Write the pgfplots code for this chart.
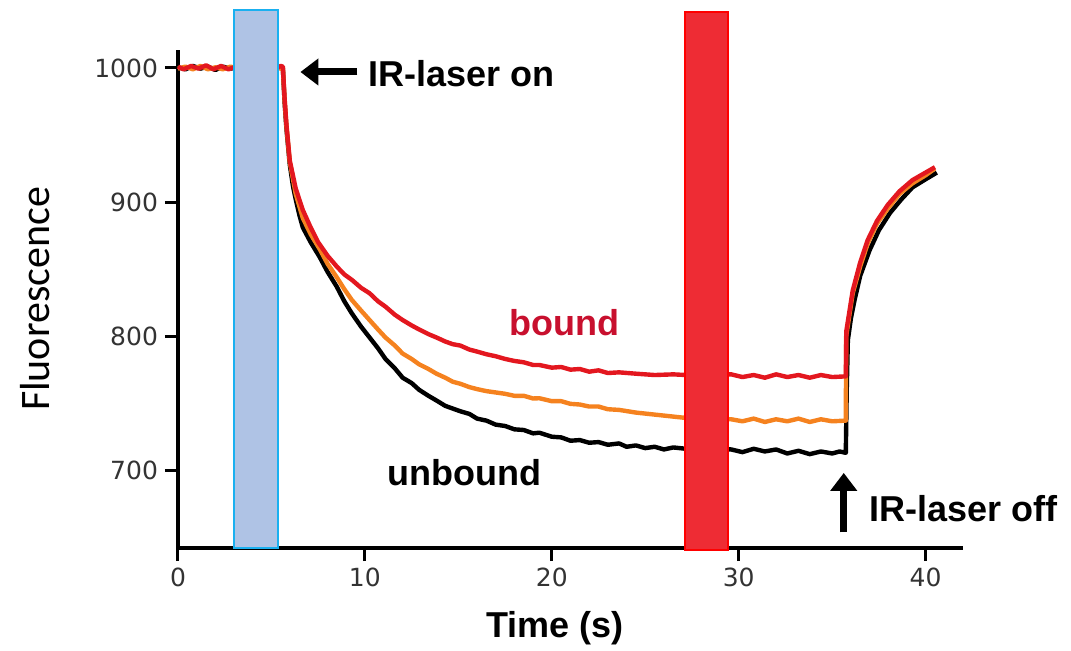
\documentclass[border=0pt]{standalone}
\usepackage{fontspec}
\setmainfont{Liberation Sans}
\newfontfamily\dejavu{DejaVu Sans}
\newfontfamily\carlito{Carlito}
\usepackage{pgfplots}
\pgfplotsset{compat=1.18}
\usetikzlibrary{arrows.meta}

\definecolor{redline}{HTML}{E3171F}
\definecolor{orangeline}{HTML}{F5821F}
\definecolor{boundred}{HTML}{C8102E}
\definecolor{bluefill}{HTML}{AFC3E5}
\definecolor{cyanedge}{HTML}{1AB0F0}
\definecolor{redfill}{HTML}{EE2C34}

\begin{document}
\begin{tikzpicture}
\useasboundingbox (-89pt,-51pt) rectangle (446.5pt,274pt);
\begin{axis}[
    at={(0,0)}, anchor=south west,
    scale only axis, width=392.5pt, height=249pt,
    xmin=0, xmax=42, ymin=642, ymax=1013.4,
    axis lines=left,
    axis line style={-, line width=2pt},
    xtick={0,10,20,30,40},
    ytick={700,800,900,1000},
    tick align=outside,
    major tick length=6.5pt,
    every tick/.style={black, line width=1.5pt},
    tick label style={font=\dejavu\fontsize{12.5}{14}\selectfont, text=black!80,
                      /pgf/number format/assume math mode=true},
    /pgf/number format/1000 sep={},
    xlabel={\bfseries Time (s)},
    xlabel style={font=\fontsize{18}{20}\selectfont, at={(axis description cs:0.48,-0.161)}, anchor=center},
    ylabel={Fluorescence},
    ylabel style={font=\carlito\fontsize{21}{24}\selectfont, at={(axis description cs:-0.182,0.5)}, anchor=center},
    clip=false]

  \addplot[black, line width=2.2pt, line join=round] coordinates {
    (0,1000.5) (0.4,999) (0.8,1001.5) (1.2,999.5) (1.6,1001) (2.0,998.5)
    (2.4,1001) (2.8,999.5) (3.2,1000.5) (5.2,1000) (5.5,1001) (5.61,1000)
    (5.7,975) (5.8,955) (5.98,928) (6.15,912) (6.3,902) (6.5,890) (6.68,881)
    (7.1,870) (7.58,859) (8.0,848) (8.49,837) (8.9,826) (9.3,817) (9.8,807)
    (10.25,799) (10.7,791) (11.1,783) (11.6,776) (12.02,769) (12.5,765)
    (12.9,760) (13.4,755.5) (13.83,752) (14.3,748) (14.7,746) (15.1,744)
    (15.59,742) (16.0,738.5) (16.5,737) (17.0,734) (17.5,733) (18.0,730.5)
    (18.5,730) (19.0,727.5) (19.33,728) (20.0,725) (20.5,724.5) (21.0,722)
    (21.5,722.5) (22.0,720.5) (22.5,721) (23.0,719) (23.6,720) (24.0,717.5)
    (24.5,718.5) (25.0,716.5) (25.5,717.5) (26.0,715.5) (26.5,717) (27.18,716)
    (29.6,715.5) (30.2,713.5) (30.8,716) (31.4,714) (32.0,715.5) (32.6,712.5)
    (33.2,714.5) (33.8,712) (34.4,714) (35.0,712.5) (35.4,714) (35.73,713)
    (35.78,760) (35.84,797) (36.0,813) (36.2,827) (36.5,845) (37.0,864)
    (37.5,879) (38.1,892) (38.7,902) (39.3,911) (40.0,917) (40.6,922)};

  \addplot[orangeline, line width=2.2pt, line join=round] coordinates {
    (0,999.5) (0.4,1001) (0.8,999) (1.2,1001.5) (1.6,999) (2.0,1000.5)
    (2.4,999) (2.8,1001) (3.2,999.5) (5.2,1000.5) (5.5,999.5) (5.61,1000)
    (5.7,977) (5.8,957) (5.98,930) (6.3,906) (6.68,888) (7.1,876) (7.58,865)
    (8.0,854) (8.49,844) (8.9,835) (9.3,827) (9.8,819) (10.25,812) (10.7,805)
    (11.1,799) (11.6,793) (12.02,787) (12.5,783) (12.9,779) (13.4,775.5)
    (13.83,772) (14.3,769) (14.7,766) (15.1,764.5) (15.59,762) (16.0,760.5)
    (16.5,759) (17.0,758) (17.5,757) (18.0,755.5) (18.5,755.5) (19.0,753.5)
    (19.33,753.7) (20.0,751.5) (20.5,751.5) (21.0,749.5) (21.5,749) (22.0,747.5)
    (22.5,747.5) (23.0,745.5) (23.6,745) (24.5,743) (25.5,741.5) (26.5,740)
    (27.18,739) (29.6,738) (30.2,736.5) (30.8,738.5) (31.4,736) (32.0,738)
    (32.6,736.5) (33.2,738.5) (33.8,736) (34.4,738) (35.0,736.5) (35.73,737)
    (35.75,800) (36.1,832) (36.5,852) (36.9,869) (37.4,884) (37.97,895)
    (38.6,906) (39.3,914) (40.0,920) (40.5,925)};

  \addplot[redline, line width=2.2pt, line join=round] coordinates {
    (0,1001) (0.3,999) (0.7,1001.5) (1.1,999.5) (1.5,1002) (1.9,999)
    (2.3,1001.5) (2.7,999) (3.1,1001) (5.2,999.5) (5.5,1001.5) (5.61,1001)
    (5.7,978) (5.8,958) (5.98,931) (6.3,910) (6.68,894) (7.1,881) (7.5,870)
    (8.0,860) (8.49,852) (8.9,846) (9.3,842) (9.8,836) (10.25,832) (10.7,826)
    (11.1,822) (11.6,816) (12.02,812) (12.5,808) (12.9,805) (13.4,801.5)
    (13.83,799) (14.3,796) (14.7,794) (15.1,793) (15.59,790) (16.0,788.5)
    (16.5,786.5) (17.0,785) (17.5,783) (18.0,781.5) (18.5,780.5) (19.0,778.5)
    (19.33,778.5) (20.0,776.5) (20.5,777) (21.0,775) (21.5,775.5) (22.0,773.5)
    (22.5,774.5) (23.0,772.5) (23.6,773) (24.5,772) (25.5,771) (26.5,771.5)
    (27.18,771) (29.6,771.5) (30.2,769.5) (30.8,771) (31.4,769) (32.0,771.5)
    (32.6,769.5) (33.2,771) (33.8,769) (34.4,771) (35.0,769.5) (35.73,770)
    (35.76,804) (36.1,834) (36.5,855) (36.9,871.6) (37.4,886) (37.97,897.8)
    (38.6,908) (39.3,916.4) (40.0,922) (40.5,926)};

  % shaded windows
  \draw[draw=cyanedge, line width=1pt, fill=bluefill] (axis cs:3.0,642) rectangle (axis cs:5.35,1043);
  \draw[draw=red, line width=1pt, fill=redfill] (axis cs:27.1,640.3) rectangle (axis cs:29.45,1041.8);

  % annotations
  \draw[line width=3.5pt, -{Triangle[length=9pt,width=13pt]}] (axis cs:9.6,997) -- (axis cs:6.55,997);
  \node[anchor=west, font=\bfseries\fontsize{18}{20}\selectfont, inner sep=0pt] at (axis cs:10.15,996) {IR-laser on};
  \draw[line width=3.5pt, -{Triangle[length=9pt,width=13pt]}] (axis cs:35.62,653.7) -- (axis cs:35.62,698);
  \node[anchor=west, font=\bfseries\fontsize{18}{20}\selectfont, inner sep=0pt] at (axis cs:36.96,671.6) {IR-laser off};
  \node[font=\bfseries\fontsize{18}{20}\selectfont, text=boundred] at (axis cs:20.67,810.4) {bound};
  \node[font=\bfseries\fontsize{18}{20}\selectfont] at (axis cs:15.33,698.5) {unbound};
\end{axis}
\end{tikzpicture}
\end{document}
